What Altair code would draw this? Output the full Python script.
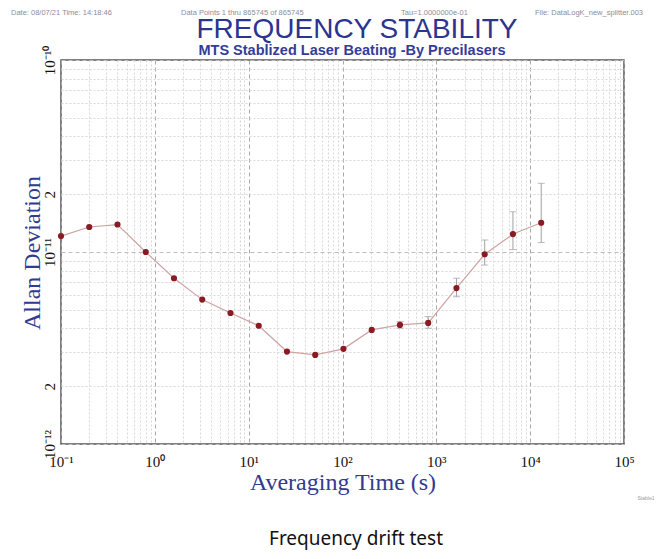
import altair as alt
import pandas as pd

# ---- data ----
tau = [0.1, 0.2, 0.4, 0.8, 1.6, 3.2, 6.4, 12.8, 25.6, 51.2, 102.4, 204.8,
       409.6, 819.2, 1638.4, 3276.8, 6553.6, 13107.2]
adev = [1.21e-11, 1.35e-11, 1.39e-11, 1.00e-11, 7.3e-12, 5.65e-12, 4.81e-12,
        4.13e-12, 3.03e-12, 2.91e-12, 3.13e-12, 3.93e-12, 4.17e-12, 4.27e-12,
        6.49e-12, 9.73e-12, 1.24e-11, 1.42e-11]
err_tau = [409.6, 819.2, 1638.4, 3276.8, 6553.6, 13107.2]
err_lo = [4.01e-12, 4.01e-12, 5.85e-12, 8.55e-12, 1.03e-11, 1.12e-11]
err_hi = [4.34e-12, 4.61e-12, 7.30e-12, 1.155e-11, 1.62e-11, 2.28e-11]

x_decades = [0.1, 1, 10, 100, 1000, 10000, 100000]
x_labels = ["10⁻¹", "10⁰", "10¹", "10²", "10³", "10⁴", "10⁵"]
y_label_values = [1e-12, 2e-12, 1e-11, 2e-11, 1e-10]
y_labels = ["10⁻¹²", "2", "10⁻¹¹", "2", "10⁻¹⁰"]

x_grid = [m * d for d in [0.1, 1, 10, 100, 1000, 10000] for m in range(1, 10)] + [100000]
y_grid = [m * d for d in [1e-12, 1e-11] for m in range(1, 10)] + [1e-10]

df = pd.DataFrame({"tau": tau, "adev": adev})
df_err = pd.DataFrame({"tau": err_tau, "lo": err_lo, "hi": err_hi})


def label_expr(vals, labs):
    parts = [f"abs(datum.value/{v:g} - 1) < 0.001 ? '{l}'" for v, l in zip(vals, labs)]
    return " : ".join(parts) + " : ''"


major_test = "abs(log(datum.value)/LN10 - round(log(datum.value)/LN10)) < 0.001"
x_grid_color = {"condition": {"test": major_test, "value": "#a8a8a8"}, "value": "#d8d8d8"}
y_grid_color = {"condition": {"test": major_test, "value": "#bdbdbd"}, "value": "#d8d8d8"}
grid_dash = {"condition": {"test": major_test, "value": [4, 3]}, "value": [2, 2]}

W, H = 563, 384
SERIF = "Liberation Serif"
BLUE = "#333a92"

x_axis = alt.Axis(values=x_grid, labelExpr=label_expr(x_decades, x_labels), title=None,
                  domain=False, ticks=False, grid=True, gridColor=x_grid_color,
                  gridDash=grid_dash, gridWidth=1, labelFont=SERIF, labelFontSize=15,
                  labelColor="#111", labelPadding=10, labelOverlap=False, labelFlush=False)
y_axis = alt.Axis(values=y_grid, labelExpr=label_expr(y_label_values, y_labels), title=None,
                  domain=False, ticks=False, grid=True, gridColor=y_grid_color,
                  gridDash=grid_dash, gridWidth=1, labelFont=SERIF, labelFontSize=15,
                  labelColor="#111", labelPadding=4, labelAngle=270, labelAlign="center",
                  labelBaseline="bottom", labelOverlap=False, labelFlush=False)

xs = alt.Scale(type="log", domain=[0.1, 100000], nice=False)
ys = alt.Scale(type="log", domain=[1e-12, 1e-10], nice=False)

base = alt.Chart(df)
line = base.mark_line(color="#cfa3a3", strokeWidth=1.2).encode(
    x=alt.X("tau:Q", scale=xs, axis=x_axis),
    y=alt.Y("adev:Q", scale=ys, axis=y_axis),
)
err_rule = alt.Chart(df_err).mark_rule(color="#a0a0a0", strokeWidth=1).encode(
    x=alt.X("tau:Q", scale=xs, axis=x_axis),
    y=alt.Y("lo:Q", scale=ys, axis=y_axis),
    y2="hi:Q",
)
cap_lo = alt.Chart(df_err).mark_tick(color="#a0a0a0", orient="horizontal", size=7, thickness=1).encode(
    x=alt.X("tau:Q", scale=xs, axis=x_axis),
    y=alt.Y("lo:Q", scale=ys, axis=y_axis),
)
cap_hi = alt.Chart(df_err).mark_tick(color="#a0a0a0", orient="horizontal", size=7, thickness=1).encode(
    x=alt.X("tau:Q", scale=xs, axis=x_axis),
    y=alt.Y("hi:Q", scale=ys, axis=y_axis),
)
points = base.mark_circle(color="#8b1a22", opacity=1, size=38).encode(
    x=alt.X("tau:Q", scale=xs, axis=x_axis),
    y=alt.Y("adev:Q", scale=ys, axis=y_axis),
)

one = pd.DataFrame({"k": [0]})


def txt(text, x, y, **kw):
    return alt.Chart(one).mark_text(text=text, **kw).encode(x=alt.value(x), y=alt.value(y))


hdr = dict(font="Liberation Sans", fontSize=7.5, color="#8c8c9c", align="left", baseline="alphabetic")
texts = [
    txt("Date: 08/07/21   Time: 14:18:46", -50, -45.5, **hdr),
    txt("Data Points 1 thru 865745 of 865745", 120, -45.5, **hdr),
    txt("Tau=1.0000000e-01", 340, -45.5, **hdr),
    txt("File: DataLogK_new_splitter.003", 474, -45.5, **hdr),
    txt("FREQUENCY STABILITY", 296, -22.5, font="Liberation Sans", fontSize=28,
        color="#2c3390", align="center", baseline="alphabetic"),
    txt("MTS Stablized Laser Beating -By Precilasers", 291, -5.5, font="Liberation Sans",
        fontSize=14.5, fontWeight="bold", color="#343c9a", align="center", baseline="alphabetic"),
    txt("Allan Deviation", -28, 193, font=SERIF, fontSize=24, color=BLUE, angle=270,
        align="center", baseline="middle"),
    txt("Averaging Time (s)", 282, 430, font=SERIF, fontSize=24, color=BLUE,
        align="center", baseline="alphabetic"),
    txt("Stable1", 585, 438, font="Liberation Sans", fontSize=5, color="#999",
        align="center", baseline="middle"),
    txt("Frequency drift test", 295, 485, font="Noto Sans", fontSize=19, color="#111",
        align="center", baseline="alphabetic"),
]

chart = alt.layer(line, err_rule, cap_lo, cap_hi, points, *texts).properties(
    width=W, height=H,
    autosize=alt.AutoSizeParams(type="none"),
    padding={"left": 53, "top": 52, "right": 30, "bottom": 106},
    background="white",
).configure_view(stroke="#555", strokeWidth=1.5)

chart.save("out.html", embed_options={"renderer": "svg", "actions": False})
